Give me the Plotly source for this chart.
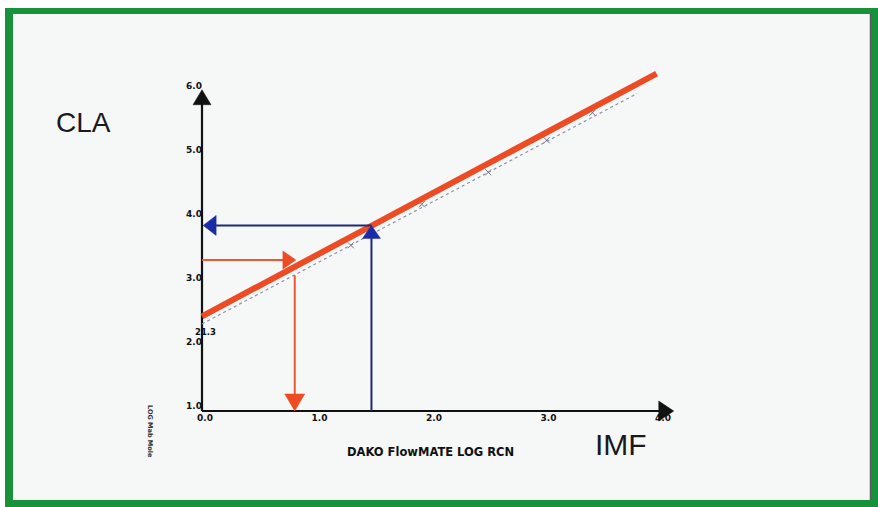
import plotly.graph_objects as go

# Axis ticks
x_ticks = [0, 1, 2, 3, 4]
x_tick_text = ["0.0", "1.0", "2.0", "3.0", "4.0"]
y_ticks = [1, 2, 3, 4, 5, 6]
y_tick_text = ["1.0", "2.0", "3.0", "4.0", "5.0", "6.0"]

# Axis extents (arrow tips)
x_axis_end = 4.12
y_axis_end = 6.02

# Calibration points (log RCN vs log MESF)
cal_x = [1.30, 1.92, 2.50, 3.01, 3.41]
cal_y = [3.59, 4.23, 4.73, 5.23, 5.66]

# Fitted regression (dotted) and highlighted calibration line
fit_x = [0.0, 3.80]
fit_y = [2.36, 5.96]
line_x = [0.0, 3.97]
line_y = [2.48, 6.27]

# Readings: IMF sample (blue) and CLA sample (red)
imf_x, imf_y = 1.48, 3.90
cla_x, cla_y = 0.81, 3.36
cla_y_drop = 3.12

RED = "#ec4b24"
RED_THIN = "#ee5634"
BLUE = "#1d2a78"
BLUE_HEAD = "#1b2ca8"
BLACK = "#111111"
GREEN = "#17913a"
BG = "#f6f7f7"

W, H = 878, 507
X0_PX, X_SCALE = 202, 114.5
Y1_PX, Y_SCALE = 411, 64.0

fig = go.Figure()

# Axis lines
fig.add_trace(go.Scatter(x=[0, 0], y=[1, y_axis_end - 0.15], mode="lines",
                         line=dict(color=BLACK, width=2.2), hoverinfo="skip"))
fig.add_trace(go.Scatter(x=[0, x_axis_end - 0.1], y=[1, 1], mode="lines",
                         line=dict(color=BLACK, width=2.2), hoverinfo="skip"))

# Dotted regression line with calibration markers
fig.add_trace(go.Scatter(x=fit_x, y=fit_y, mode="lines",
                         line=dict(color="#8a95a8", width=1.2, dash="dot"),
                         hoverinfo="skip"))
fig.add_trace(go.Scatter(x=cal_x, y=cal_y, mode="markers",
                         marker=dict(symbol="x-thin", size=6,
                                     line=dict(color="#6f7788", width=1)),
                         hoverinfo="skip"))

# Thick calibration line
fig.add_trace(go.Scatter(x=line_x, y=line_y, mode="lines",
                         line=dict(color=RED, width=6), hoverinfo="skip"))

# Blue reading lines
fig.add_trace(go.Scatter(x=[0.08, imf_x], y=[imf_y, imf_y], mode="lines",
                         line=dict(color=BLUE, width=2), hoverinfo="skip"))
fig.add_trace(go.Scatter(x=[imf_x, imf_x], y=[1, imf_y - 0.15], mode="lines",
                         line=dict(color=BLUE, width=2), hoverinfo="skip"))

# Red reading lines
fig.add_trace(go.Scatter(x=[0, cla_x - 0.1], y=[cla_y, cla_y], mode="lines",
                         line=dict(color=RED_THIN, width=2), hoverinfo="skip"))
fig.add_trace(go.Scatter(x=[cla_x, cla_x], y=[1.15, cla_y_drop], mode="lines",
                         line=dict(color=RED_THIN, width=2), hoverinfo="skip"))


def head(x, y, path, color):
    return dict(type="path", xref="x", yref="y", xsizemode="pixel",
                ysizemode="pixel", xanchor=x, yanchor=y, path=path,
                fillcolor=color, line=dict(color=color, width=0.5),
                layer="above")


shapes = [
    # frame
    dict(type="rect", xref="paper", yref="paper", x0=5 / W, x1=1,
         y0=0, y1=1 - 8 / H, fillcolor=GREEN, line=dict(width=0), layer="below"),
    dict(type="rect", xref="paper", yref="paper", x0=13 / W, x1=871 / W,
         y0=1 - 500 / H, y1=1 - 14 / H, fillcolor=BG, line=dict(width=0),
         layer="below"),
    dict(type="line", xref="paper", yref="paper", x0=870.5 / W, x1=870.5 / W,
         y0=1 - 500 / H, y1=1 - 14 / H, line=dict(color="#5a5a5a", width=1.5),
         layer="below"),
    # axis arrowheads
    head(0, y_axis_end, "M -9 -15 L 9 -15 L 0 0 Z", BLACK),
    head(x_axis_end, 1, "M -15 -10 L -15 10 L 0 0 Z", BLACK),
    # blue arrowheads
    head(0.01, imf_y, "M 0 0 L 13 10 L 13 -10 Z", BLUE_HEAD),
    head(imf_x, imf_y, "M -9 -13 L 9 -13 L 0 0 Z", BLUE_HEAD),
    # red arrowheads
    head(cla_x + 0.01, cla_y, "M 0 0 L -13 9 L -13 -9 Z", RED),
    head(cla_x, 1, "M 0 0 L -10 17 L 10 17 Z", RED),
]

tick_font = dict(family="DejaVu Sans", size=9, color=BLACK, weight="bold")


def label(text, px, py, size, family="DejaVu Sans", weight="normal",
          color="#1a1a1a", angle=0):
    return dict(text=text, x=px / W, y=1 - py / H, xref="paper", yref="paper",
                xanchor="center", yanchor="middle", showarrow=False,
                textangle=angle,
                font=dict(family=family, size=size, color=color,
                          weight=weight))


annotations = [
    label("CLA", 83, 122, 28, family="Liberation Sans"),
    label("IMF", 621, 444, 30, family="Liberation Sans"),
    label("DAKO FlowMATE LOG RCN", 430, 452, 11.5, weight="bold",
          color=BLACK),
    label("LOG Mab Mole", 150, 431, 6.5, weight="bold", color="#333333",
          angle=90),
    dict(text="21.3", x=0.03, y=2.23, xref="x", yref="y", xanchor="center",
         yanchor="middle", showarrow=False,
         font=dict(family="DejaVu Sans", size=8.5, color=BLACK,
                   weight="bold")),
]

fig.update_layout(
    width=W, height=H, margin=dict(l=0, r=0, t=0, b=0),
    paper_bgcolor="#ffffff", plot_bgcolor="rgba(0,0,0,0)",
    showlegend=False, shapes=shapes, annotations=annotations,
    xaxis=dict(range=[-X0_PX / X_SCALE, (W - X0_PX) / X_SCALE],
               domain=[0, 1], anchor="free", position=1 - Y1_PX / H,
               tickvals=x_ticks, ticktext=x_tick_text, tickfont=tick_font,
               showgrid=False, zeroline=False, showline=False, ticks="",
               ticklabelstandoff=0, ticklabelshift=3, fixedrange=True),
    yaxis=dict(range=[1 - (H - Y1_PX) / Y_SCALE, 1 + Y1_PX / Y_SCALE],
               domain=[0, 1], anchor="free", position=X0_PX / W,
               tickvals=y_ticks, ticktext=y_tick_text, tickfont=tick_font,
               showgrid=False, zeroline=False, showline=False, ticks="",
               ticklabelstandoff=0, ticklabelshift=-5, fixedrange=True),
)

fig.write_html("out.html")
